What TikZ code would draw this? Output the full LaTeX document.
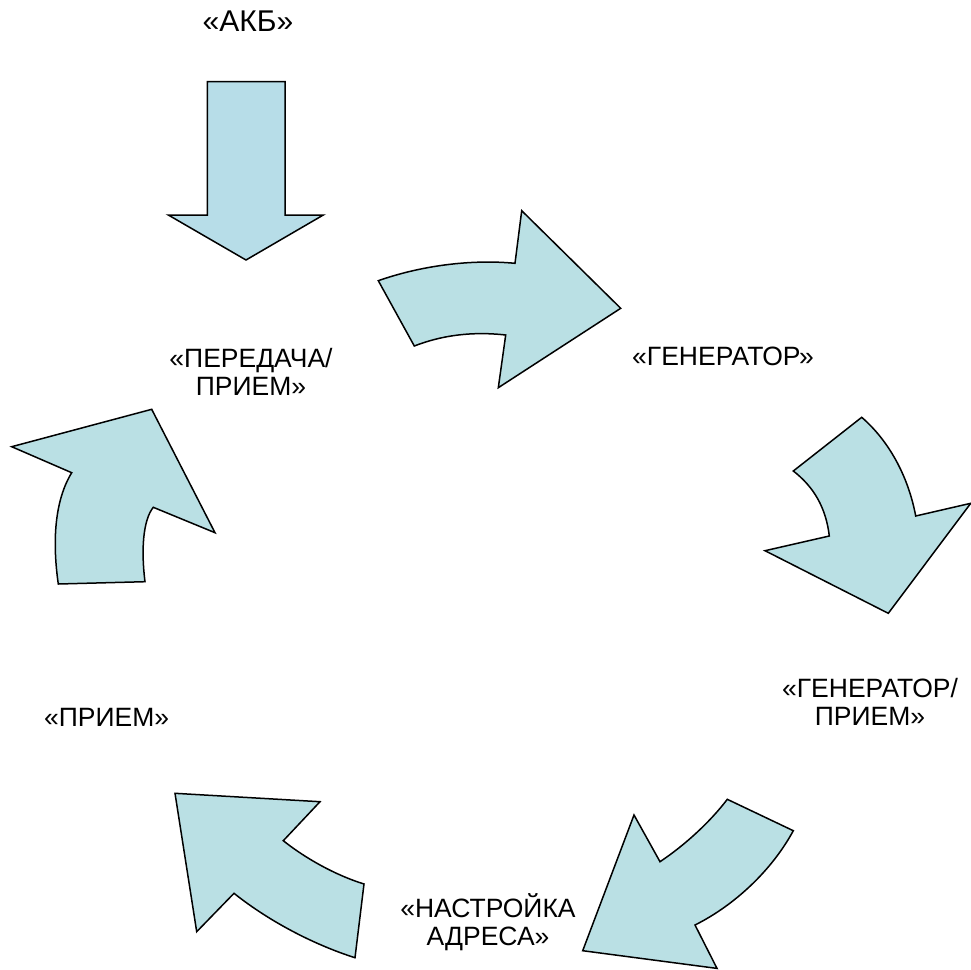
\documentclass[tikz,border=0pt]{standalone}
\usepackage{fontspec}
\setmainfont{Liberation Sans}
\begin{document}
\begin{tikzpicture}[x=1pt,y=-1pt,
  arrowshape/.style={draw=black,line width=1.5pt,line join=miter,fill=arrowfill},
  topshape/.style={arrowshape,fill=topfill},
  lbl/.style={inner sep=0pt,anchor=base,align=center,font=\fontsize{26.5}{27.7}\selectfont},
  biglbl/.style={inner sep=0pt,anchor=base,font=\fontsize{30}{34}\selectfont}]
\definecolor{arrowfill}{RGB}{186,224,228}
\definecolor{topfill}{RGB}{183,221,232}
\useasboundingbox (0,0) rectangle (971,969);

% top straight arrow
\draw[topshape] (207.3,81.7) -- (285,81.7) -- (285,215) -- (323.3,215) -- (246,260) -- (168.3,215) -- (207.3,215) -- cycle;

% arrow 1 (top, curving right)
\draw[arrowshape] (378.3,280.7) .. controls (420,266) and (470,259) .. (515,263.3) -- (521.7,210.7) -- (620.7,308.3) -- (498.3,387.7) -- (505.7,335) .. controls (470,331) and (440,336) .. (414.3,346) -- cycle;

% arrow 2 (right, pointing down)
\draw[arrowshape] (861.7,417.3) .. controls (888,440) and (908,475) .. (915.7,516) -- (970.7,503.3) -- (888.3,613.3) -- (765,550.7) -- (829.3,536) .. controls (826,508) and (814,487) .. (793.3,471) -- cycle;

% arrow 3 (bottom right, pointing down-left)
\draw[arrowshape] (727.3,799.3) .. controls (710,822) and (685,845) .. (660,861.7) -- (634,815) -- (582.7,950.7) -- (717,968.4) -- (695,925) .. controls (735,905) and (772,870) .. (793.3,830.7) -- cycle;

% arrow 4 (bottom left, pointing up-left)
\draw[arrowshape] (175,793.3) -- (320,801.7) -- (283.3,840.7) .. controls (305,858) and (335,875) .. (364,884) -- (355,957.7) .. controls (315,945) and (270,922) .. (234,893.3) -- (196.7,931.7) -- cycle;

% arrow 5 (left, pointing up-right)
\draw[arrowshape] (11.7,446.7) -- (151.7,409.3) -- (215,532.7) -- (153.3,507.3) .. controls (143,520) and (141,550) .. (145,581.7) -- (58.3,584) .. controls (52,540) and (55,500) .. (71.7,472.7) -- cycle;

% labels
\node[biglbl] (akb) at (248,31.7) {«АКБ»};
\node[lbl] (pp) at (251,395) {«ПЕРЕДАЧА/\\ПРИЕМ»};
\node[lbl] (gen) at (723,365) {«ГЕНЕРАТОР»};
\node[lbl] (genp) at (870,725) {«ГЕНЕРАТОР/\\ПРИЕМ»};
\node[lbl] (pr) at (106.7,726.7) {«ПРИЕМ»};
\node[lbl] (nast) at (488,945) {«НАСТРОЙКА\\АДРЕСА»};
\end{tikzpicture}
\end{document}
